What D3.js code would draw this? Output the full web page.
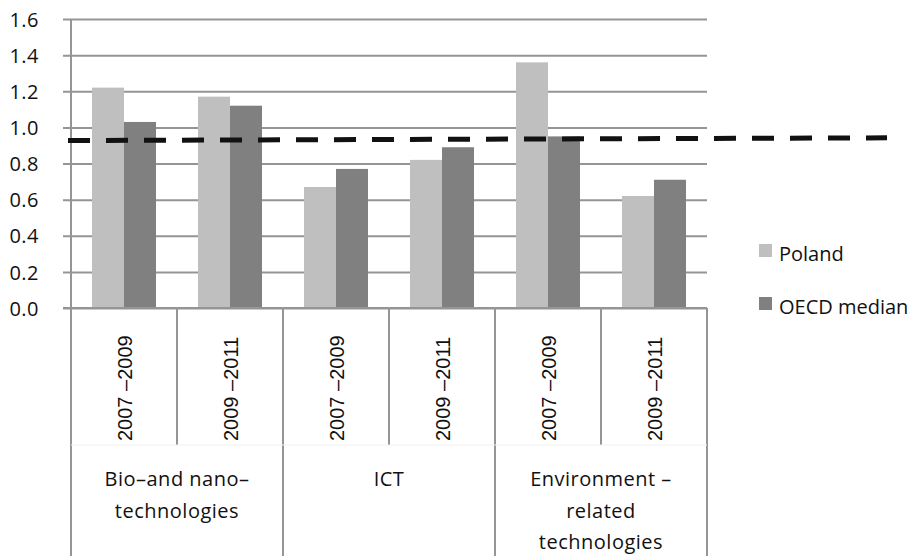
<!DOCTYPE html>
<html>
<head>
<meta charset="utf-8">
<script src="https://cdn.jsdelivr.net/npm/d3@7"></script>
<style>
  html, body { margin: 0; padding: 0; background: #fff; }
  svg { display: block; }
</style>
</head>
<body>
<svg id="chart" width="913" height="556"></svg>
<script>
// Technology fields, each split into two periods
const groups = ["Bio\u2013and nano\u2013|technologies", "ICT", "Environment \u2013|related|technologies"];
const periods = ["2007 \u20132009", "2009 \u20132011"];
const seriesNames = ["Poland", "OECD median"];
const poland = [1.22, 1.17, 0.67, 0.82, 1.36, 0.62];
const oecdMedian = [1.03, 1.12, 0.77, 0.89, 0.95, 0.71];
const yTicks = [0, 0.2, 0.4, 0.6, 0.8, 1.0, 1.2, 1.4, 1.6];
// Dashed benchmark line: value at its left and right ends
const benchmark = [0.927, 0.942];

const colors = ["#bfbfbf", "#808080"];
const gridColor = "#959595";

const svg = d3.select("#chart");
const plotLeft = 71, plotRight = 707, plotTop = 19, plotBottom = 308;

const rows = [];
groups.forEach((g, gi) => periods.forEach((p, pi) => {
  const i = gi * periods.length + pi;
  rows.push({ key: i, group: gi, period: p, values: [poland[i], oecdMedian[i]] });
}));

const y = d3.scaleLinear().domain([0, 1.6]).range([plotBottom, plotTop]);
const x = d3.scaleBand().domain(rows.map(d => d.key)).range([plotLeft, plotRight]).padding(0);
const xs = d3.scaleBand().domain(seriesNames).range([21, 85]).padding(0);

// Horizontal gridlines with their tick stubs
const yAxis = d3.axisLeft(y).tickValues(yTicks).tickFormat(d3.format(".1f"))
  .tickSize(-(plotRight - plotLeft)).tickSizeOuter(0).tickPadding(32);
const gy = svg.append("g").attr("transform", `translate(${plotLeft},0)`).call(yAxis);
gy.select(".domain").remove();
gy.selectAll(".tick line").attr("x1", -8).attr("stroke", gridColor).attr("stroke-width", 2);
gy.selectAll(".tick text")
  .attr("fill", "#111").attr("font-family", "'Open Sans', sans-serif").attr("font-size", 20)
  .attr("letter-spacing", 0.5)
  .attr("dy", "0.36em");

// Bars
const bars = svg.append("g");
rows.forEach(r => {
  bars.selectAll(null).data(r.values).join("rect")
    .attr("x", (v, si) => x(r.key) + xs(seriesNames[si]))
    .attr("y", v => y(v))
    .attr("width", xs.bandwidth())
    .attr("height", v => y(0) - y(v))
    .attr("fill", (v, si) => colors[si]);
});

// Category axis frame
const frame = svg.append("g").attr("stroke", gridColor).attr("stroke-width", 2);
frame.append("line").attr("x1", plotLeft).attr("x2", plotLeft).attr("y1", plotTop).attr("y2", plotBottom);
const groupEdges = d3.range(groups.length + 1).map(i => x(i * periods.length) ?? plotRight);
groupEdges.forEach(ex => frame.append("line")
  .attr("x1", ex).attr("x2", ex).attr("y1", plotBottom).attr("y2", 556));
rows.filter(r => r.key % periods.length === 1).forEach(r => frame.append("line")
  .attr("x1", x(r.key)).attr("x2", x(r.key)).attr("y1", plotBottom).attr("y2", 445));
svg.append("line").attr("x1", plotLeft).attr("x2", plotRight).attr("y1", 445).attr("y2", 445)
  .attr("stroke", "#f0f0f0").attr("stroke-width", 1);
svg.append("line").attr("x1", plotLeft - 8).attr("x2", plotRight).attr("y1", plotBottom).attr("y2", plotBottom)
  .attr("stroke", gridColor).attr("stroke-width", 2);

// Period labels, rotated
svg.append("g").selectAll("text").data(rows).join("text")
  .attr("transform", d => `translate(${x(d.key) + x.bandwidth() / 2 + 1},441) rotate(-90)`)
  .attr("dy", "0.35em")
  .attr("font-family", "'Liberation Sans', Arial, sans-serif").attr("font-size", 20)
  .attr("fill", "#111")
  .text(d => d.period);

// Group labels, wrapped
const lineY = [486, 518, 549];
svg.append("g").selectAll("text").data(groups).join("text")
  .attr("x", (g, gi) => (groupEdges[gi] + groupEdges[gi + 1]) / 2)
  .attr("text-anchor", "middle")
  .attr("font-family", "'Open Sans', sans-serif").attr("font-size", 20)
  .attr("letter-spacing", 0.5).attr("fill", "#111")
  .each(function (g) {
    const cx = d3.select(this).attr("x");
    d3.select(this).selectAll("tspan").data(g.split("|")).join("tspan")
      .attr("x", cx).attr("y", (t, i) => lineY[i]).text(t => t);
  });

// Dashed benchmark line, drawn over the bars
svg.append("line")
  .attr("x1", 68).attr("x2", 887)
  .attr("y1", y(benchmark[0])).attr("y2", y(benchmark[1]))
  .attr("stroke", "#111").attr("stroke-width", 5).attr("stroke-dasharray", "22 16");

// Legend
const legend = svg.append("g").selectAll("g").data(seriesNames).join("g")
  .attr("transform", (d, i) => `translate(759,${244 + i * 53})`);
legend.append("rect").attr("width", 13).attr("height", 13).attr("fill", (d, i) => colors[i]);
legend.append("text").attr("x", 20).attr("y", 17)
  .attr("font-family", "'Open Sans', sans-serif").attr("font-size", 20).attr("fill", "#111")
  .text(d => d);
</script>
</body>
</html>
